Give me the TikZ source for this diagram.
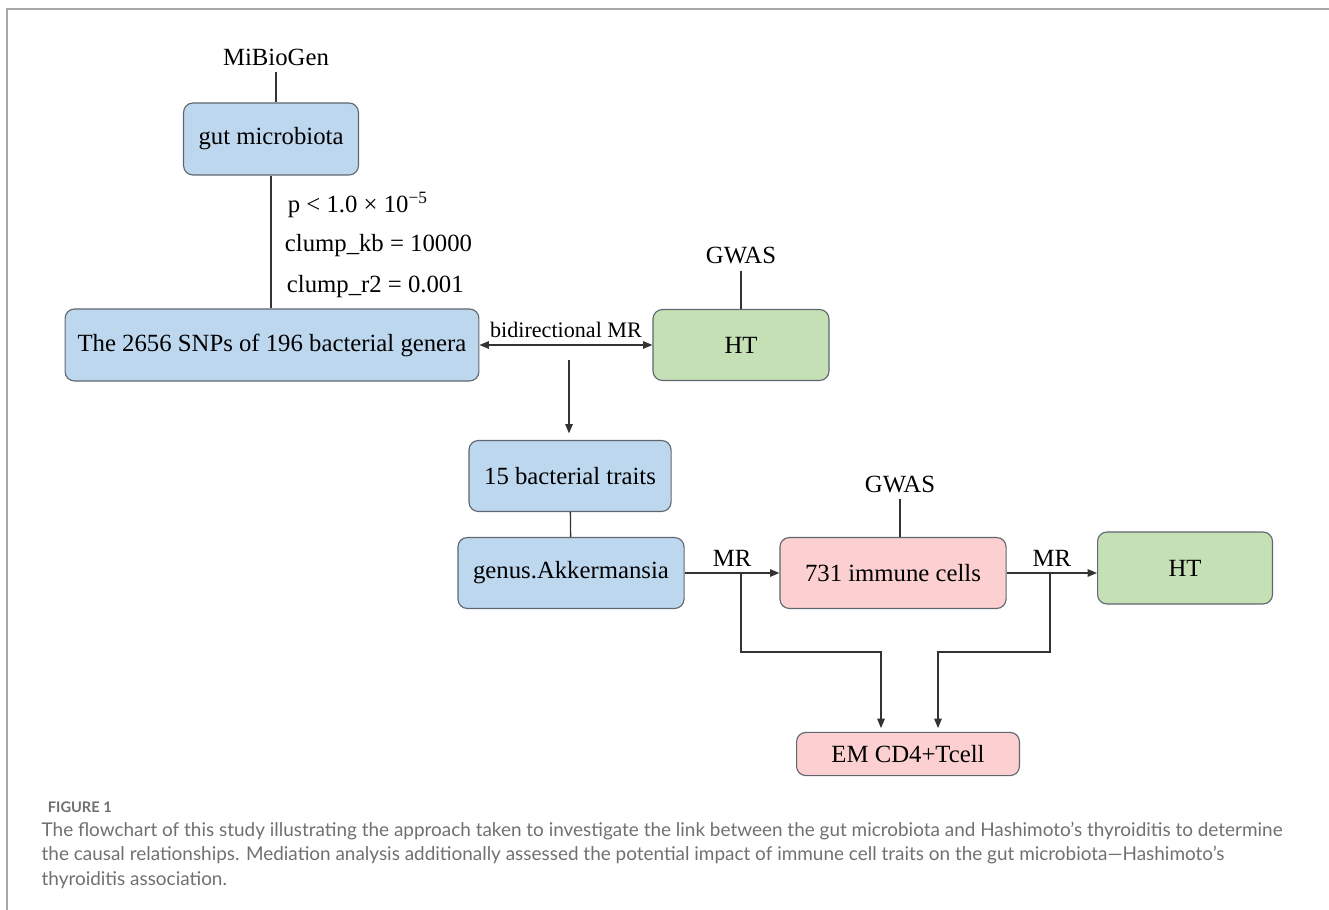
\documentclass[tikz,border=0pt]{standalone}
\usepackage{fontspec}
\setmainfont{Liberation Serif}
\newfontfamily\capfont{Lato}
\usetikzlibrary{arrows.meta}
\definecolor{boxblue}{HTML}{BDD7EE}
\definecolor{boxgreen}{HTML}{C5E0B4}
\definecolor{boxpink}{HTML}{FCD0D0}
\definecolor{boxline}{HTML}{5E6670}
\definecolor{capgray}{HTML}{707070}
\definecolor{framegray}{HTML}{A8A8A8}
\definecolor{wiregray}{HTML}{333333}

\begin{document}
\begin{tikzpicture}[
                    x=0.01875cm, y=-0.01875cm,
                    >={Triangle[length=5pt,width=4pt]},
                    line width=0.7pt,
                    draw=wiregray,
                    every node/.style={font=\fontsize{13.2}{15}\selectfont},
                    box/.style={draw=boxline, line width=0.6pt, rounded corners=5pt, inner sep=2pt},
                    bluebox/.style={box, fill=boxblue},
                    greenbox/.style={box, fill=boxgreen},
                    pinkbox/.style={box, fill=boxpink},
                    small/.style={font=\fontsize{11.8}{13}\selectfont}
                ]
                \useasboundingbox (0,0) rectangle (1329,910);
                \draw[framegray, line width=1.2pt] (7,910) -- (7,9) -- (1329,9);

                \node (gut) [bluebox, minimum width=3.28cm, minimum height=1.35cm] at (271,139) {gut microbiota};
                \node (snp) [bluebox, minimum width=7.76cm, minimum height=1.35cm] at (272,345) {The 2656 SNPs of 196 bacterial genera};
                \node (htA) [greenbox, minimum width=3.30cm, minimum height=1.33cm] at (741,345) {HT};
                \node (traits) [bluebox, minimum width=3.79cm, minimum height=1.33cm] at (570,476) {15 bacterial traits};
                \node (akk) [bluebox, minimum width=4.24cm, minimum height=1.33cm] at (571,573) {genus.Akkermansia};
                \node (immune) [pinkbox, minimum width=4.24cm, minimum height=1.33cm] at (893,573) {731 immune cells};
                \node (htB) [greenbox, minimum width=3.28cm, minimum height=1.35cm] at (1185,568) {HT};
                \node (emcd) [pinkbox, minimum width=4.18cm, minimum height=0.81cm] at (908,754) {EM CD4+Tcell};

                \node (mibio) at (276,57) {MiBioGen};
                \node (gwasA) at (741,256) {GWAS};
                \node (gwasB) at (900,484) {GWAS};

                \node (pval) [anchor=west] at (281,205) {p < 1.0 × 10\textsuperscript{−5}};
                \node (kb) [anchor=west] at (278,246) {clump\_kb = 10000};
                \node (rtwo) [anchor=west] at (280,287) {clump\_r2 = 0.001};

                \coordinate (split) at (569,360);
                \coordinate (mrA) at (741,573);
                \coordinate (mrB) at (1050,573);
                \coordinate (joinA) at (881,652);
                \coordinate (joinB) at (938,652);

                \draw[<->] (snp.east |- htA) -- node[above, small] (bidir) {bidirectional MR} (htA.west);
                \draw[->, shorten >=3.5pt] (split) -- (split |- traits.north);
                \draw[->] (akk.east) -- node[above] (mrlabA) {MR} (immune.west);
                \draw[->] (immune.east) -- node[above] (mrlabB) {MR} (immune.east -| htB.west);
                \draw[->, shorten >=2pt] (mrA) |- (joinA) -- (joinA |- emcd.north);
                \draw[->, shorten >=2pt] (mrB) |- (joinB) -- (joinB |- emcd.north);

                \begin{scope}[-]
                    \path[draw]
                    (mibio.south) edge (mibio.south |- gut.north)
                    (gwasA) edge (htA)
                    (gwasB.south) edge (gwasB.south |- immune.north)
                    (traits) edge (akk)
                    (gut.south) edge (gut.south |- snp.north)
                    ;
                \end{scope}

                \node (figlab) [anchor=west, text=capgray, font=\capfont\bfseries\fontsize{7.8}{9}\selectfont] at (41,807) {FIGURE 1};
                \node (caption) [anchor=north west, align=left, inner sep=0pt, text=capgray, font=\capfont\fontsize{10.1}{13.2}\selectfont] at (41,821) {The flowchart of this study illustrating the approach taken to investigate the link between the gut microbiota and Hashimoto’s thyroiditis to determine\\the causal relationships. Mediation analysis additionally assessed the potential impact of immune cell traits on the gut microbiota—Hashimoto’s\\thyroiditis association.};
            \end{tikzpicture}
\end{document}
